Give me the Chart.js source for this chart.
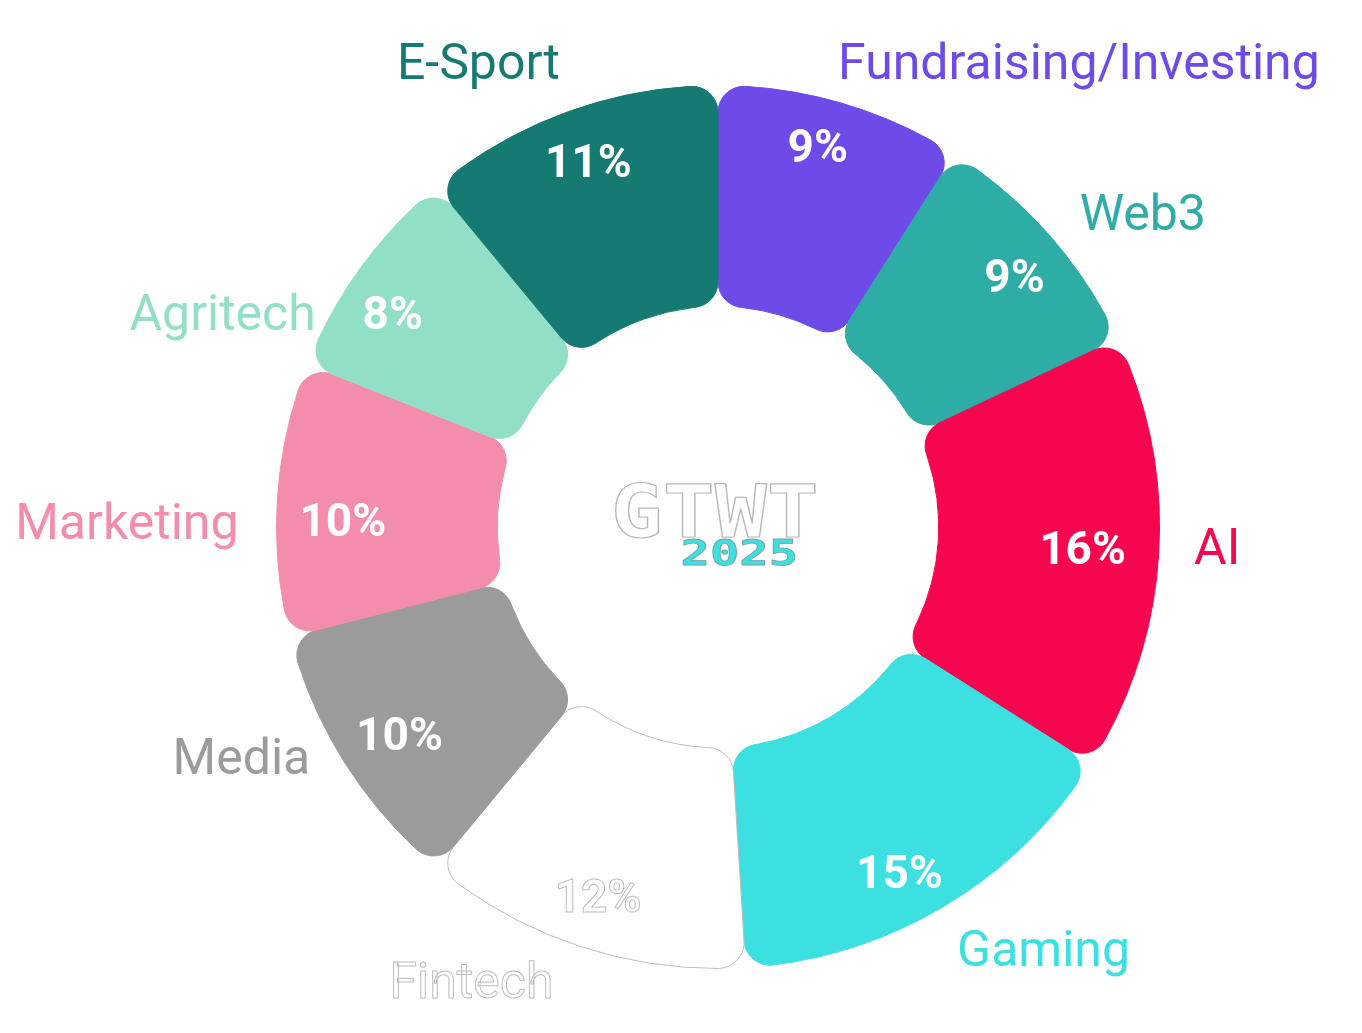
<!DOCTYPE html>
<html><head><meta charset="utf-8">
<script src="https://cdn.jsdelivr.net/npm/chart.js@4.4.1/dist/chart.umd.min.js"></script>
<style>html,body{margin:0;padding:0;background:#fff;overflow:hidden}</style>
</head><body>
<canvas id="c" width="1362" height="1033"></canvas>
<script>
// ---- data ----
const categories = ['Fundraising/Investing','Web3','AI','Gaming','Fintech','Media','Marketing','Agritech','E-Sport'];
const shares = [9, 9, 16, 15, 12, 10, 10, 8, 11];
const colors = ['#6E4BE8','#2EACA6','#F5064E','#3DE0E0','#FFFFFF','#9B9B9B','#F48CAB','#92DFC8','#147A72'];
const centerTitle = 'GTWT';
const centerYear = '2025';

// ---- style ----
const outlineColor = '#BDBDBD';
const textDy = 4;
const labelNudge = { // degrees / px, style tweaks for outer label placement
  'Fundraising/Investing': {a: -1.7, g: 38},
  'Web3': {a: 0.5, g: 37},
  'AI': {a: -1.1, g: 35},
  'Gaming': {a: 1.1, g: 44},
  'Fintech': {a: 1.9, g: 42},
  'Media': {a: 2.9, g: 27},
  'Marketing': {a: -3.1, g: 38},
  'Agritech': {a: -8, g: 14},
  'E-Sport': {a: 1, g: 49}
};
const pctNudge = { // degrees / px, style tweaks for inside value placement
  'Fundraising/Investing': {a: -1.5, r: 8},
  'Web3': {a: 1.2, r: 3},
  'AI': {a: -0.3, r: -20},
  'Gaming': {a: 2.9, r: 5},
  'Fintech': {a: 0, r: 3},
  'Media': {a: -0.7, r: -5},
  'Marketing': {a: -2.6, r: -10},
  'Agritech': {a: -2.7, r: 4},
  'E-Sport': {a: 0.3, r: 3}
};
const isOutlined = c => c.toUpperCase() === '#FFFFFF';

function fitText(ctx, text, cx, cy, w, h, fill, stroke, lw) {
  ctx.save();
  ctx.font = '700 100px "DejaVu Sans Mono"';
  const m = ctx.measureText(text);
  const tw = m.actualBoundingBoxLeft + m.actualBoundingBoxRight;
  const th = m.actualBoundingBoxAscent + m.actualBoundingBoxDescent;
  const sx = w / tw, sy = h / th;
  ctx.translate(cx - w / 2, cy - h / 2);
  ctx.scale(sx, sy);
  ctx.textAlign = 'left';
  ctx.textBaseline = 'alphabetic';
  const ox = m.actualBoundingBoxLeft, oy = m.actualBoundingBoxAscent;
  ctx.fillStyle = fill;
  ctx.fillText(text, ox, oy);
  if (stroke) {
    ctx.lineJoin = 'round';
    ctx.strokeStyle = stroke;
    ctx.lineWidth = lw / Math.min(sx, sy);
    ctx.strokeText(text, ox, oy);
  }
  ctx.restore();
}

const labelPlugin = {
  id: 'labels',
  afterDatasetsDraw(chart) {
    const ctx = chart.ctx;
    const meta = chart.getDatasetMeta(0);
    meta.data.forEach((arc, i) => {
      const p = arc.getProps(['x','y','startAngle','endAngle','outerRadius','innerRadius'], true);
      const mid = (p.startAngle + p.endAngle) / 2;
      const col = colors[i];
      const outl = isOutlined(col);
      const deg = Math.PI / 180;
      // percentage inside
      const pn = pctNudge[categories[i]] || {a: 0, r: 0};
      const pa = mid + pn.a * deg;
      const rp = p.innerRadius + (p.outerRadius - p.innerRadius) * 0.745 + pn.r;
      const px = p.x + Math.cos(pa) * rp, py = p.y + Math.sin(pa) * rp + textDy;
      ctx.save();
      ctx.font = '700 46px Roboto';
      ctx.textAlign = 'center';
      ctx.textBaseline = 'middle';
      const pct = shares[i] + '%';
      ctx.fillStyle = '#FFFFFF';
      ctx.fillText(pct, px, py);
      if (outl) { ctx.strokeStyle = outlineColor; ctx.lineWidth = 1; ctx.strokeText(pct, px, py); }
      // outer label
      const n = labelNudge[categories[i]] || {a: 0, g: 40};
      const a = mid + n.a * deg;
      const r = p.outerRadius + n.g;
      const lx = p.x + Math.cos(a) * r, ly = p.y + Math.sin(a) * r + textDy;
      ctx.font = '400 50px Roboto';
      ctx.textAlign = Math.cos(a) >= 0 ? 'left' : 'right';
      ctx.fillStyle = col;
      ctx.fillText(categories[i], lx, ly);
      if (outl) { ctx.strokeStyle = outlineColor; ctx.lineWidth = 1; ctx.strokeText(categories[i], lx, ly); }
      ctx.restore();
    });
    // centre logo
    const c0 = meta.data[0];
    const cx = c0.x, cy = c0.y;
    fitText(ctx, centerTitle, cx - 3, cy - 17, 200, 56, '#FFFFFF', '#B8B8B8', 1.2);
    fitText(ctx, centerYear, cx + 21, cy + 25, 112, 27, '#3DE0E0', '#7FA0A0', 0.8);
  }
};

new Chart(document.getElementById('c'), {
  type: 'doughnut',
  data: {
    labels: categories,
    datasets: [{
      data: shares,
      backgroundColor: colors,
      borderColor: colors.map(c => isOutlined(c) ? outlineColor : c),
      borderWidth: 1,
      borderRadius: 26,
      spacing: 0,
      hoverOffset: 0
    }]
  },
  options: {
    responsive: false,
    animation: false,
    rotation: 0,
    cutout: '50%',
    layout: { padding: { top: 85, bottom: 64, left: 74, right: 0 } },
    plugins: { legend: { display: false }, tooltip: { enabled: false } }
  },
  plugins: [labelPlugin]
});
</script>
</body></html>
